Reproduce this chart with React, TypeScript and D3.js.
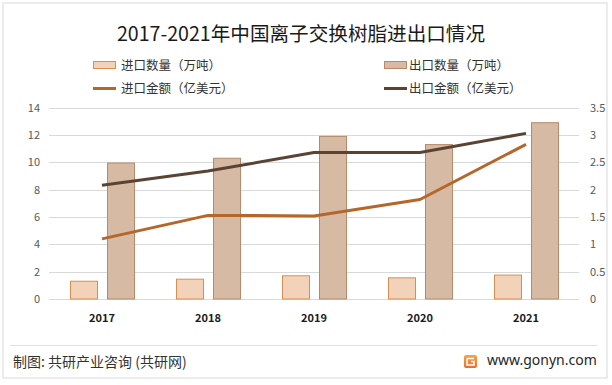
import React from "react";
import * as d3 from "d3";

/* ---- data ---- */
const YEARS = ["2017", "2018", "2019", "2020", "2021"];
const IMPORT_QTY = [1.3, 1.45, 1.7, 1.55, 1.75]; // 万吨
const EXPORT_QTY = [9.95, 10.3, 11.9, 11.3, 12.9]; // 万吨
const IMPORT_VALUE = [1.1, 1.53, 1.52, 1.82, 2.83]; // 亿美元
const EXPORT_VALUE = [2.08, 2.34, 2.68, 2.68, 3.03]; // 亿美元
const LEFT_TICKS = [0, 2, 4, 6, 8, 10, 12, 14];
const RIGHT_TICKS = [0, 0.5, 1, 1.5, 2, 2.5, 3, 3.5];

const FONT = "'Noto Sans CJK SC', 'Noto Sans', sans-serif";
const C_IMP_FILL = "#F2D3BA";
const C_IMP_STROKE = "#D98E50";
const C_EXP_FILL = "#D6BAA4";
const C_EXP_STROKE = "#B5896A";
const C_IMP_LINE = "#B5662B";
const C_EXP_LINE = "#5B4333";

export default function App() {
  const W = 612;
  const H = 385;
  const M = { left: 49, right: 579, top: 107.7, bottom: 299 };

  /* ---- scales ---- */
  const x = d3.scaleBand<string>().domain(YEARS).range([M.left, M.right]);
  const bw = x.bandwidth();
  const inner = d3
    .scaleBand<string>()
    .domain(["imp", "exp"])
    .range([21, bw - 21])
    .paddingInner(0.27);
  const yL = d3.scaleLinear().domain([0, 14]).range([M.bottom, M.top]);
  const yR = d3.scaleLinear().domain([0, 3.5]).range([M.bottom, M.top]);

  const cx = (i: number) => (x(YEARS[i]) as number) + bw / 2;
  const line = d3
    .line<number>()
    .x((_, i) => cx(i))
    .y((d) => yR(d));

  return (
    <svg
      width={W}
      height={H}
      style={{ position: "absolute", left: 0, top: 0, background: "#fff" }}
      fontFamily={FONT}
    >
      {/* outer frame */}
      <rect x={3} y={3} width={604} height={375} fill="#fff" stroke="#d9d9d9" strokeWidth={1} />

      {/* title */}
      <text x={301} y={41} textAnchor="middle" fontSize={19.6} fill="#1a1a1a">
        2017-2021年中国离子交换树脂进出口情况
      </text>

      {/* legend */}
      <g fontSize={12.5} fill="#333">
        <rect x={93.5} y={61.5} width={22} height={7} fill={C_IMP_FILL} stroke={C_IMP_STROKE} />
        <text x={121} y={69.5}>进口数量（万吨）</text>
        <rect x={384.5} y={61.5} width={22} height={7} fill={C_EXP_FILL} stroke={C_EXP_STROKE} />
        <text x={409} y={69.5}>出口数量（万吨）</text>
        <line x1={93} x2={116} y1={88.5} y2={88.5} stroke={C_IMP_LINE} strokeWidth={3} />
        <text x={121} y={92.5}>进口金额（亿美元）</text>
        <line x1={384} x2={407} y1={88.5} y2={88.5} stroke={C_EXP_LINE} strokeWidth={3} />
        <text x={409} y={92.5}>出口金额（亿美元）</text>
      </g>

      {/* gridlines */}
      {LEFT_TICKS.map((t) => (
        <line
          key={"g" + t}
          x1={M.left}
          x2={M.right}
          y1={Math.round(yL(t)) + 0.5}
          y2={Math.round(yL(t)) + 0.5}
          stroke="#d9d9d9"
          strokeWidth={1}
        />
      ))}

      {/* left axis labels */}
      {LEFT_TICKS.map((t) => (
        <text key={"l" + t} x={40} y={yL(t) + 4} textAnchor="end" fontSize={11} fill="#595959">
          {t}
        </text>
      ))}
      {/* right axis labels */}
      {RIGHT_TICKS.map((t) => (
        <text key={"r" + t} x={590} y={yR(t) + 4} textAnchor="start" fontSize={11} fill="#595959">
          {t}
        </text>
      ))}

      {/* bars */}
      {YEARS.map((yr, i) => (
        <g key={"b" + yr} transform={`translate(${x(yr)},0)`}>
          <rect
            x={(inner("imp") as number) + 0.5}
            y={yL(IMPORT_QTY[i])}
            width={inner.bandwidth()}
            height={yL(0) - yL(IMPORT_QTY[i])}
            fill={C_IMP_FILL}
            stroke={C_IMP_STROKE}
            strokeWidth={1}
          />
          <rect
            x={(inner("exp") as number) + 0.5}
            y={yL(EXPORT_QTY[i])}
            width={inner.bandwidth()}
            height={yL(0) - yL(EXPORT_QTY[i])}
            fill={C_EXP_FILL}
            stroke={C_EXP_STROKE}
            strokeWidth={1}
          />
        </g>
      ))}

      {/* lines */}
      <path d={line(IMPORT_VALUE) ?? ""} fill="none" stroke={C_IMP_LINE} strokeWidth={3} strokeLinejoin="round" />
      <path d={line(EXPORT_VALUE) ?? ""} fill="none" stroke={C_EXP_LINE} strokeWidth={3} strokeLinejoin="round" />

      {/* x labels */}
      {YEARS.map((yr, i) => (
        <text key={"x" + yr} x={cx(i)} y={322} textAnchor="middle" fontSize={11} fontWeight="bold" fill="#1a1a1a">
          {yr}
        </text>
      ))}

      {/* footer */}
      <line x1={10} x2={597} y1={345.5} y2={345.5} stroke="#e0e0e0" strokeWidth={1} />
      <text x={13} y={367} fontSize={14} fill="#333">
        制图: 共研产业咨询 (共研网)
      </text>
      <defs>
        <linearGradient id="logoGrad" x1="0" y1="0" x2="0" y2="1">
          <stop offset="0" stopColor="#F9A24A" />
          <stop offset="1" stopColor="#EF6A2E" />
        </linearGradient>
      </defs>
      <rect x={464} y={355} width={13} height={13} rx={2} fill="url(#logoGrad)" />
      <path d="M467 358.5 H474 M467 358.5 V365 H474 V361.5 H471" fill="none" stroke="#fff" strokeWidth={1.6} />
      <text x={487} y={365} fontSize={14} fill="#262626" fontFamily="'Noto Sans', sans-serif">
        www.gonyn.com
      </text>
    </svg>
  );
}
